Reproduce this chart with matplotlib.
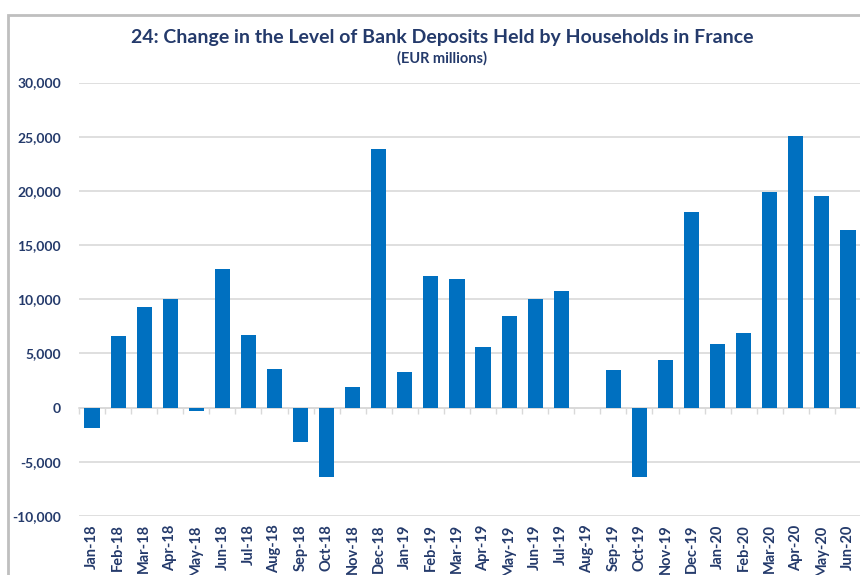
import numpy as np
import matplotlib.pyplot as plt
from matplotlib.patches import Rectangle

plt.rcParams['font.family'] = ['Lato', 'DejaVu Sans']

months = ['Jan-18', 'Feb-18', 'Mar-18', 'Apr-18', 'May-18', 'Jun-18',
          'Jul-18', 'Aug-18', 'Sep-18', 'Oct-18', 'Nov-18', 'Dec-18',
          'Jan-19', 'Feb-19', 'Mar-19', 'Apr-19', 'May-19', 'Jun-19',
          'Jul-19', 'Aug-19', 'Sep-19', 'Oct-19', 'Nov-19', 'Dec-19',
          'Jan-20', 'Feb-20', 'Mar-20', 'Apr-20', 'May-20', 'Jun-20']
# monthly change in household deposits, EUR millions
deposits = [-1850, 6640, 9290, 10000, -350, 12780,
            6700, 3610, -3210, -6360, 1940, 23890,
            3330, 12160, 11880, 5620, 8460, 10000,
            10750, 0, 3450, -6360, 4430, 18070,
            5850, 6870, 19890, 25090, 19520, 16350]
yticks = [-10000, -5000, 0, 5000, 10000, 15000, 20000, 25000, 30000]

navy = '#243A6B'
blue = '#0070C0'
grid = '#D9D9D9'

fig = plt.figure(figsize=(8.6, 5.75), dpi=100)
ax = fig.add_axes([79 / 860, 1 - 516 / 575, 782 / 860, 433.5 / 575])

x = np.arange(len(months))
ax.bar(x, deposits, width=0.58, color=blue, linewidth=0, zorder=3)

ax.set_ylim(yticks[0], yticks[-1])
ax.set_xlim(-0.5, len(months) - 0.5)
ax.set_yticks(yticks)
ax.set_yticklabels([f'{v:,}' for v in yticks])
ax.yaxis.grid(True, color=grid, linewidth=1.2, zorder=0)
ax.set_xticks(x)
ax.set_xticklabels(months, rotation=90)
ax.tick_params(axis='both', length=0, labelcolor=navy)
ax.tick_params(axis='y', pad=13, labelsize=10)
ax.tick_params(axis='x', pad=6, labelsize=10.5)
for lab in ax.get_xticklabels() + ax.get_yticklabels():
    lab.set_fontweight('bold')
for s in ax.spines.values():
    s.set_visible(False)

# category axis drawn through zero with boundary tick marks
zero_pos = (0 - yticks[0]) / (yticks[-1] - yticks[0])
sec = ax.secondary_xaxis(zero_pos)
sec.set_xticks(np.arange(len(months) + 1) - 0.5)
sec.tick_params(length=4, width=1, color=grid, labelbottom=False, direction='out')
sec.spines['bottom'].set_color(grid)
sec.spines['bottom'].set_linewidth(1.2)

# chart frame
fig.patches.append(Rectangle((8 / 860, -0.1), 1.2, 1 - 15 / 575 + 0.1,
                             transform=fig.transFigure, fill=False,
                             edgecolor='#BFBFBF', linewidth=2))

fig.text(442 / 860, 1 - 37 / 575, '24: Change in the Level of Bank Deposits Held by Households in France',
         ha='center', va='center', fontsize=14, fontweight='bold', color=navy)
fig.text(442 / 860, 1 - 58 / 575, '(EUR millions)',
         ha='center', va='center', fontsize=10.5, fontweight='bold', color=navy)

fig.savefig('out.png', dpi=100)
